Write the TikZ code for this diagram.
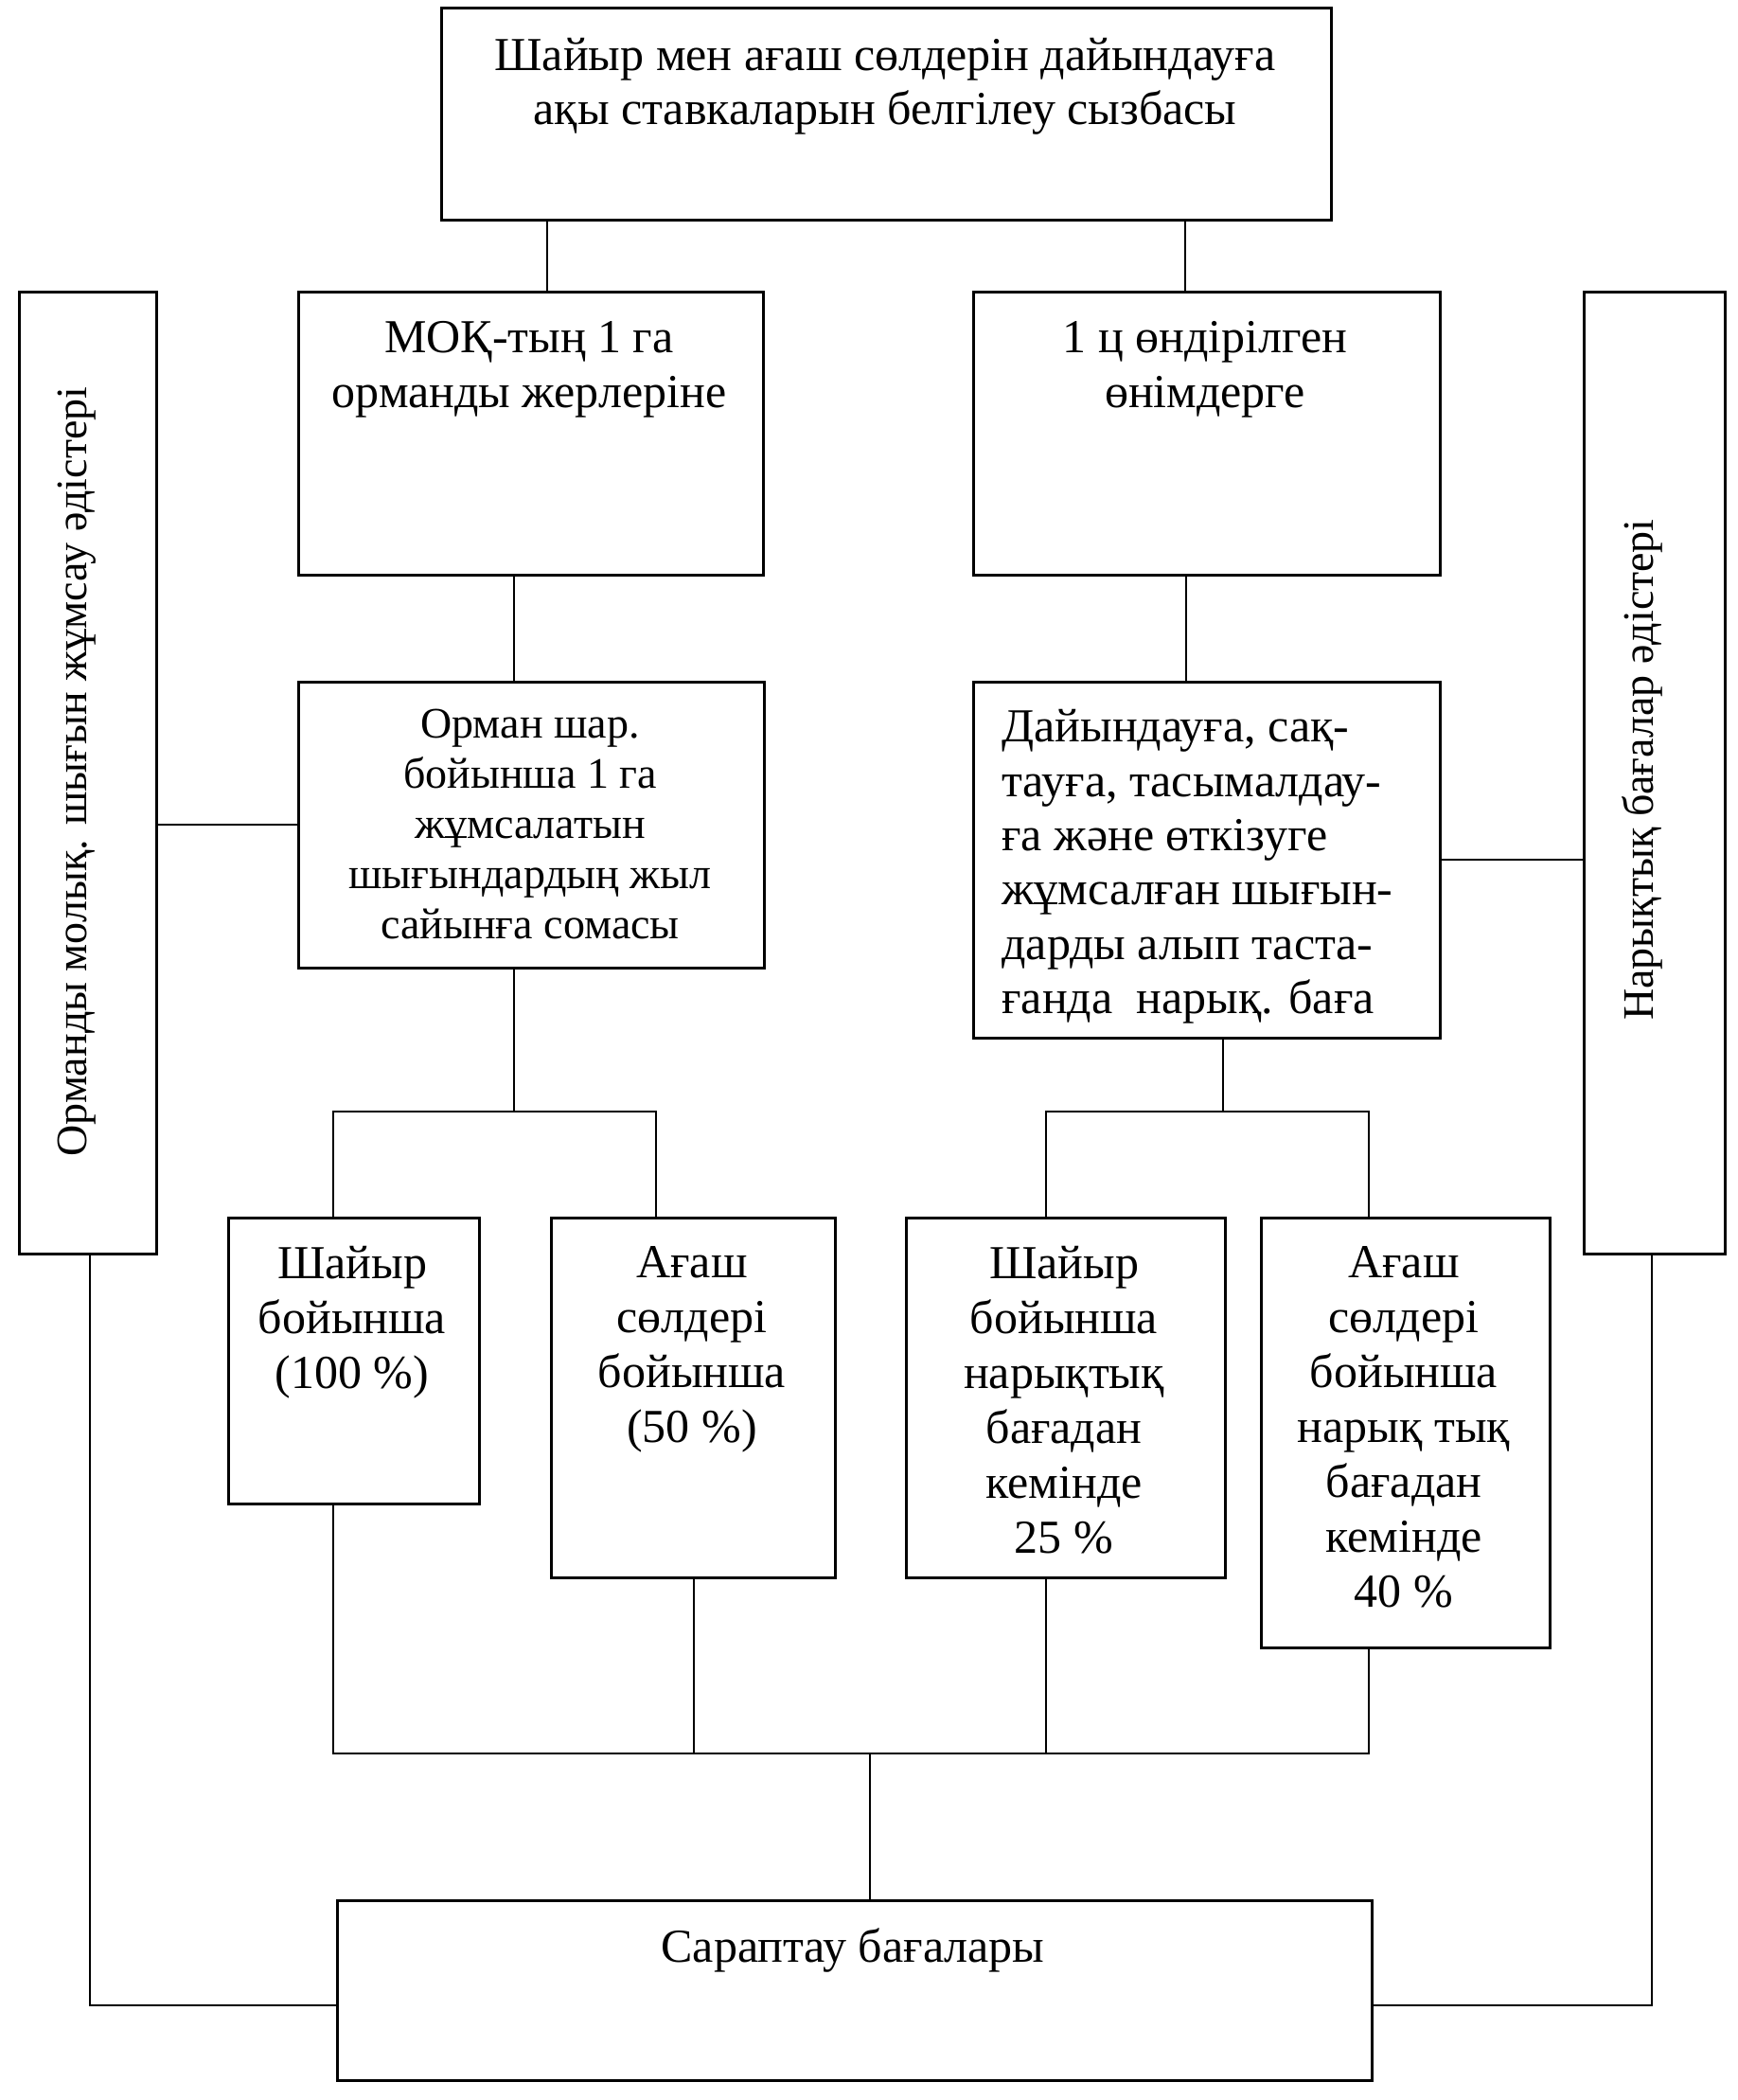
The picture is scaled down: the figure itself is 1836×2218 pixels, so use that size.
\documentclass[tikz,border=0pt]{standalone}
\usepackage{fontspec}
\setmainfont{Liberation Serif}
\begin{document}
\begin{tikzpicture}[x=0.5pt,y=-0.5pt,
  box/.style={draw,line width=1.4pt,inner sep=0pt,anchor=north west},
  conn/.style={line width=1pt},
  txt/.style={font=\fontsize{25}{29}\selectfont,inner sep=0pt,align=center,anchor=north},
  vtxt/.style={font=\fontsize{23}{28}\selectfont,inner sep=0pt,anchor=center,rotate=90},
]
\useasboundingbox[fill=white] (0,0) rectangle (1836,2218);
% boxes
\node[box,minimum width=470pt,minimum height=112pt] (top) at (465,7) {};
\node[box,minimum width=72.5pt,minimum height=508pt] (lbox) at (19,307) {};
\node[box,minimum width=74.5pt,minimum height=508pt] (rbox) at (1672,307) {};
\node[box,minimum width=245.5pt,minimum height=149.5pt] (mok) at (314,307) {};
\node[box,minimum width=246.5pt,minimum height=149.5pt] (onim) at (1027,307) {};
\node[box,minimum width=246pt,minimum height=151pt] (orman) at (314,719) {};
\node[box,minimum width=246.5pt,minimum height=188pt] (dayin) at (1027,719) {};
\node[box,minimum width=132.5pt,minimum height=151pt] (b1) at (240,1285) {};
\node[box,minimum width=150pt,minimum height=190pt] (b2) at (581,1285) {};
\node[box,minimum width=168.5pt,minimum height=190pt] (b3) at (956,1285) {};
\node[box,minimum width=152.5pt,minimum height=227pt] (b4) at (1331,1285) {};
\node[box,minimum width=546.5pt,minimum height=95pt] (sar) at (355,2006) {};
% texts
\node[txt,font=\fontsize{25}{28.5}\selectfont] (ttop) at (935,40) {Шайыр мен ағаш сөлдерін дайындауға\\ақы ставкаларын белгілеу сызбасы};
\node[txt] (tmok) at (559,339) {МОҚ-тың 1 га\\орманды жерлеріне};
\node[txt] (tonim) at (1273,339) {1 ц өндірілген\\өнімдерге};
\node[txt,font=\fontsize{23}{26.5}\selectfont] (torman) at (560,749) {Орман шар.\\бойынша 1 га\\жұмсалатын\\шығындардың жыл\\сайынға сомасы};
\node[txt,align=left,anchor=north west,font=\fontsize{25}{28.7}\selectfont] (tdayin) at (1058,749) {Дайындауға, сақ-\\тауға, тасымалдау-\\ға және өткізуге\\жұмсалған шығын-\\дарды алып таста-\\ғанда \ нарық. баға};
\node[txt] (tb1) at (372,1316) {Шайыр\\бойынша\\(100 \%)};
\node[txt] (tb2) at (731,1316) {Ағаш\\сөлдері\\бойынша\\(50 \%)};
\node[txt] (tb3) at (1124,1316) {Шайыр\\бойынша\\нарықтық\\бағадан\\кемінде\\25 \%};
\node[txt] (tb4) at (1483,1316) {Ағаш\\сөлдері\\бойынша\\нарық тық\\бағадан\\кемінде\\40 \%};
\node[txt] (tsar) at (901,2036) {Сараптау бағалары};
\node[vtxt] (tl) at (81,815) {Орманды молық. шығын жұмсау әдістері};
\node[vtxt] (tr) at (1735,813) {Нарықтық бағалар әдістері};
% junction coordinates
\coordinate (jL) at (543,1174);
\coordinate (jR) at (1292,1174);
\coordinate (jB) at (919,1852);
% connectors
\draw[conn] (578,0 |- top.south) -- (578,0 |- mok.north);
\draw[conn] (1252,0 |- top.south) -- (1252,0 |- onim.north);
\draw[conn] (543,0 |- mok.south) -- (543,0 |- orman.north);
\draw[conn] (1253,0 |- onim.south) -- (1253,0 |- dayin.north);
\draw[conn] (lbox.east |- 0,871) -- (orman.west |- 0,871);
\draw[conn] (dayin.east |- 0,908) -- (rbox.west |- 0,908);
\draw[conn] (543,0 |- orman.south) -- (jL);
\draw[conn] (352,0 |- b1.north) -- (352,0 |- jL) -- (693,0 |- jL) -- (693,0 |- b2.north);
\draw[conn] (1292,0 |- dayin.south) -- (jR);
\draw[conn] (1105,0 |- b3.north) -- (1105,0 |- jR) -- (1446,0 |- jR) -- (1446,0 |- b4.north);
\draw[conn] (352,0 |- b1.south) -- (352,0 |- jB) -- (1446,0 |- jB) -- (1446,0 |- b4.south);
\draw[conn] (733,0 |- b2.south) -- (733,0 |- jB);
\draw[conn] (1105,0 |- b3.south) -- (1105,0 |- jB);
\draw[conn] (jB) -- (919,0 |- sar.north);
\draw[conn] (95,0 |- lbox.south) -- (95,2118) -- (sar.west |- 0,2118);
\draw[conn] (1745,0 |- rbox.south) -- (1745,2118) -- (sar.east |- 0,2118);
\end{tikzpicture}
\end{document}
